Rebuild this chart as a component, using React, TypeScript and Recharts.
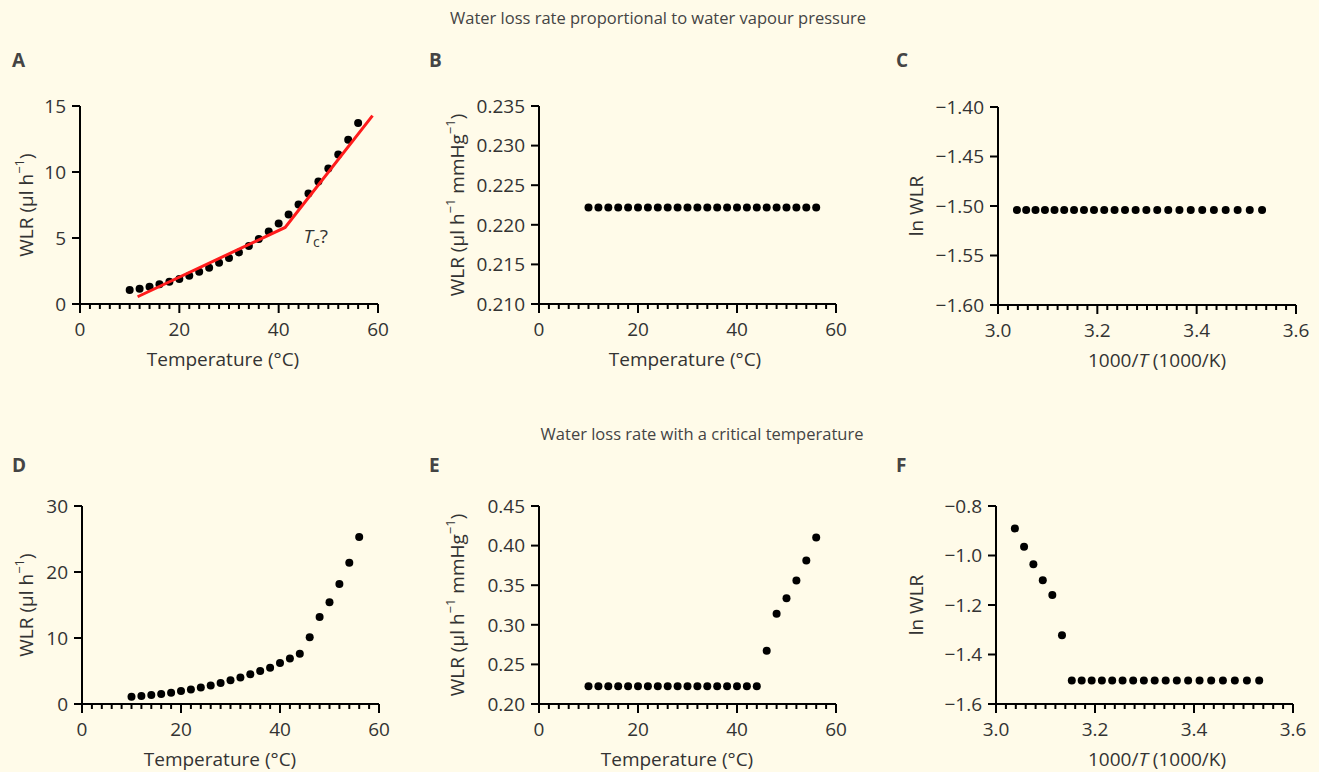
import React from 'react'
import { ScatterChart, Scatter, XAxis, YAxis, ReferenceDot, Label } from 'recharts'

const FONT = '"Open Sans", "Noto Sans", sans-serif'
const INK = '#333'
const BG = '#fffbe9'
const RED = '#ff1c1c'
const FS = 19

// temperatures of the points (°C)
const tempC = [10, 12, 14, 16, 18, 20, 22, 24, 26, 28, 30, 32, 34, 36, 38, 40, 42, 44, 46, 48, 50, 52, 54, 56]
// same points as 1000/T (1000/K)
const invT = [3.5317, 3.5069, 3.4825, 3.4584, 3.4347, 3.4112, 3.3881, 3.3653, 3.3428, 3.3206, 3.2987, 3.2771,
  3.2557, 3.2347, 3.2139, 3.1933, 3.1731, 3.1531, 3.1333, 3.1138, 3.0945, 3.0755, 3.0567, 3.0381]

// top row: vapour-pressure driven
const wlrA = [1.06, 1.16, 1.31, 1.49, 1.69, 1.89, 2.14, 2.45, 2.75, 3.13, 3.48, 3.91, 4.39, 4.92, 5.5, 6.1,
  6.78, 7.54, 8.37, 9.28, 10.26, 11.32, 12.45, 13.71]
const fitTemp = [11.6, 41.3, 58.9]
const fitWlr = [0.55, 5.8, 14.27]
const wlrPerMmHgB = [0.2222, 0.2222, 0.2222, 0.2222, 0.2222, 0.2222, 0.2222, 0.2222, 0.2222, 0.2222, 0.2222, 0.2222,
  0.2222, 0.2222, 0.2222, 0.2222, 0.2222, 0.2222, 0.2222, 0.2222, 0.2222, 0.2222, 0.2222, 0.2222]
const lnWlrC = [-1.504, -1.504, -1.504, -1.504, -1.504, -1.504, -1.504, -1.504, -1.504, -1.504, -1.504, -1.504,
  -1.504, -1.504, -1.504, -1.504, -1.504, -1.504, -1.504, -1.504, -1.504, -1.504, -1.504, -1.504]

// bottom row: critical temperature
const wlrD = [1.1, 1.2, 1.36, 1.5, 1.7, 1.97, 2.2, 2.5, 2.8, 3.2, 3.6, 4.0, 4.5, 5.0, 5.5, 6.2, 6.9, 7.6,
  10.1, 13.2, 15.4, 18.2, 21.4, 25.3]
const wlrPerMmHgE = [0.2224, 0.2224, 0.2224, 0.2224, 0.2224, 0.2224, 0.2224, 0.2224, 0.2224, 0.2224, 0.2224, 0.2224,
  0.2224, 0.2224, 0.2224, 0.2224, 0.2224, 0.2224, 0.2672, 0.3139, 0.3336, 0.3559, 0.3811, 0.4101]
const lnWlrF = [-1.505, -1.505, -1.505, -1.505, -1.505, -1.505, -1.505, -1.505, -1.505, -1.505, -1.505, -1.505,
  -1.505, -1.505, -1.505, -1.505, -1.505, -1.505, -1.322, -1.16, -1.1, -1.035, -0.965, -0.891]

// axis ticks
const tempMajor = [0, 20, 40, 60]
const invTMajor = [3.0, 3.2, 3.4, 3.6]
const ticksA = [0, 5, 10, 15]
const ticksB = [0.21, 0.215, 0.22, 0.225, 0.23, 0.235]
const ticksC = [-1.6, -1.55, -1.5, -1.45, -1.4]
const ticksD = [0, 10, 20, 30]
const ticksE = [0.2, 0.25, 0.3, 0.35, 0.4, 0.45]
const ticksF = [-1.6, -1.4, -1.2, -1.0, -0.8]

const AX_W = 110
const M_TOP = 20
const M_RIGHT = 20
const AX_H = 75

const minus = (s: string) => s.replace('-', '\u2212')

const minorTicks = (lo: number, hi: number, step: number) => {
  const out: number[] = []
  const n = Math.round((hi - lo) / step)
  for (let i = 0; i <= n; i++) out.push(Math.round((lo + i * step) * 1000) / 1000)
  return out
}

function XTick(props: any) {
  const { x, y, payload, majors, fmt } = props
  const v = payload.value
  const major = majors.some((m: number) => Math.abs(m - v) < 1e-6)
  return (
    <g>
      <line x1={x} x2={x} y1={y} y2={y + (major ? 9 : 5)} stroke="#000" strokeWidth={2} />
      {major && (
        <text x={x} y={y + 32} textAnchor="middle" fill={INK} fontSize={FS} fontFamily={FONT}>
          {fmt(v)}
        </text>
      )}
    </g>
  )
}

const dot = (p: any) => <circle cx={p.cx} cy={p.cy} r={4} fill="#000" />

const wlrLabel = (
  <>
    WLR (µl h<tspan dy={-7} fontSize={13}>−1</tspan><tspan dy={7}>)</tspan>
  </>
)
const wlrPerLabel = (
  <>
    WLR (µl h<tspan dy={-7} fontSize={13}>−1</tspan><tspan dy={7}> mmHg</tspan>
    <tspan dy={-7} fontSize={13}>−1</tspan><tspan dy={7}>)</tspan>
  </>
)
const lnLabel = <>ln WLR</>
const tempLabel = <>Temperature (°C)</>
const invTLabel = (
  <>
    1000/<tspan fontStyle="italic">T</tspan> (1000/K)
  </>
)

type Cfg = {
  plot: { left: number; top: number; width: number; height: number }
  xs: number[]
  ys: number[]
  xDomain: [number, number]
  xMajor: number[]
  xStep: number
  xFmt: (v: number) => string
  yDomain: [number, number]
  yTicks: number[]
  yFmt: (v: number) => string
  yLabel: React.ReactNode
  yLabelX: number
  xLabel: React.ReactNode
  xLabelX: number
  fit?: boolean
}

function Panel({ cfg }: { cfg: Cfg }) {
  const { plot } = cfg
  const left = plot.left - AX_W
  const top = plot.top - M_TOP
  const w = plot.width + AX_W + M_RIGHT
  const h = plot.height + M_TOP + AX_H
  const data = cfg.xs.map((x, i) => ({ x, y: cfg.ys[i] }))
  const fit = fitTemp.map((x, i) => ({ x, y: fitWlr[i] }))
  const cy = M_TOP + plot.height / 2
  return (
    <div style={{ position: 'absolute', left, top }}>
      <ScatterChart width={w} height={h} margin={{ top: M_TOP, right: M_RIGHT, bottom: 0, left: 0 }}>
        <XAxis
          type="number"
          dataKey="x"
          domain={cfg.xDomain}
          ticks={minorTicks(cfg.xDomain[0], cfg.xDomain[1], cfg.xStep)}
          interval={0}
          allowDataOverflow
          tickLine={false}
          tickSize={0}
          tickMargin={0}
          height={AX_H}
          axisLine={{ stroke: '#000', strokeWidth: 2 }}
          tick={(p: any) => <XTick {...p} majors={cfg.xMajor} fmt={cfg.xFmt} />}
        >
          <Label
            content={() => (
              <text
                x={cfg.xLabelX - left}
                y={M_TOP + plot.height + 55}
                textAnchor="middle"
                dominantBaseline="central"
                fill={INK}
                fontSize={FS}
                fontFamily={FONT}
              >
                {cfg.xLabel}
              </text>
            )}
          />
        </XAxis>
        <YAxis
          type="number"
          dataKey="y"
          domain={cfg.yDomain}
          ticks={cfg.yTicks}
          interval={0}
          allowDataOverflow
          width={AX_W}
          tickSize={8}
          tickMargin={6}
          tickFormatter={cfg.yFmt}
          tick={{ fill: INK, fontSize: FS, fontFamily: FONT }}
          tickLine={{ stroke: '#000', strokeWidth: 2 }}
          axisLine={{ stroke: '#000', strokeWidth: 2 }}
        >
          <Label
            content={() => (
              <text
                x={cfg.yLabelX - left}
                y={cy}
                transform={`rotate(-90 ${cfg.yLabelX - left} ${cy})`}
                textAnchor="middle"
                dominantBaseline="central"
                fill={INK}
                fontSize={FS}
                fontFamily={FONT}
              >
                {cfg.yLabel}
              </text>
            )}
          />
        </YAxis>
        <Scatter data={data} shape={dot} isAnimationActive={false} />
        {cfg.fit && (
          <Scatter
            data={fit}
            line={{ stroke: RED, strokeWidth: 3 }}
            shape={() => <g />}
            isAnimationActive={false}
          />
        )}
        {cfg.fit && (
          <ReferenceDot
            x={45}
            y={4.6}
            r={0}
            shape={(p: any) => (
              <text x={p.cx} y={p.cy} fill={INK} fontSize={FS} fontFamily={FONT}>
                <tspan fontStyle="italic">T</tspan>
                <tspan dy={4} fontSize={14}>c</tspan>
                <tspan dy={-4}>?</tspan>
              </text>
            )}
          />
        )}
      </ScatterChart>
    </div>
  )
}

const fmt0 = (v: number) => String(Math.round(v))
const fmt1 = (v: number) => minus(v.toFixed(1))

const panels: Cfg[] = [
  {
    plot: { left: 80, top: 106, width: 298, height: 198 },
    xs: tempC, ys: wlrA, xDomain: [0, 60], xMajor: tempMajor, xStep: 2, xFmt: fmt0,
    yDomain: [0, 15], yTicks: ticksA, yFmt: fmt0,
    yLabel: wlrLabel, yLabelX: 26, xLabel: tempLabel, xLabelX: 223, fit: true,
  },
  {
    plot: { left: 539, top: 106, width: 297, height: 198 },
    xs: tempC, ys: wlrPerMmHgB, xDomain: [0, 60], xMajor: tempMajor, xStep: 2, xFmt: fmt0,
    yDomain: [0.21, 0.235], yTicks: ticksB, yFmt: (v) => v.toFixed(3),
    yLabel: wlrPerLabel, yLabelX: 457, xLabel: tempLabel, xLabelX: 685,
  },
  {
    plot: { left: 998, top: 107, width: 298, height: 198 },
    xs: invT, ys: lnWlrC, xDomain: [3.0, 3.6], xMajor: invTMajor, xStep: 0.02, xFmt: fmt1,
    yDomain: [-1.6, -1.4], yTicks: ticksC, yFmt: (v) => minus(v.toFixed(2)),
    yLabel: lnLabel, yLabelX: 916, xLabel: invTLabel, xLabelX: 1157,
  },
  {
    plot: { left: 82, top: 506, width: 297, height: 198 },
    xs: tempC, ys: wlrD, xDomain: [0, 60], xMajor: tempMajor, xStep: 2, xFmt: fmt0,
    yDomain: [0, 30], yTicks: ticksD, yFmt: fmt0,
    yLabel: wlrLabel, yLabelX: 26, xLabel: tempLabel, xLabelX: 220,
  },
  {
    plot: { left: 539, top: 506, width: 297, height: 198 },
    xs: tempC, ys: wlrPerMmHgE, xDomain: [0, 60], xMajor: tempMajor, xStep: 2, xFmt: fmt0,
    yDomain: [0.2, 0.45], yTicks: ticksE, yFmt: (v) => v.toFixed(2),
    yLabel: wlrPerLabel, yLabelX: 457, xLabel: tempLabel, xLabelX: 677,
  },
  {
    plot: { left: 996, top: 506, width: 297, height: 198 },
    xs: invT, ys: lnWlrF, xDomain: [3.0, 3.6], xMajor: invTMajor, xStep: 0.02, xFmt: fmt1,
    yDomain: [-1.6, -0.8], yTicks: ticksF, yFmt: (v) => minus(v.toFixed(1)),
    yLabel: lnLabel, yLabelX: 916, xLabel: invTLabel, xLabelX: 1157,
  },
]

const letters = [
  { t: 'A', x: 12, y: 50 },
  { t: 'B', x: 429, y: 50 },
  { t: 'C', x: 896, y: 50 },
  { t: 'D', x: 12, y: 455 },
  { t: 'E', x: 429, y: 455 },
  { t: 'F', x: 896, y: 455 },
]

const titles = [
  { t: 'Water loss rate proportional to water vapour pressure', cx: 658, y: 8 },
  { t: 'Water loss rate with a critical temperature', cx: 702, y: 424 },
]

export default function App() {
  return (
    <div
      style={{
        position: 'absolute',
        left: 0,
        top: 0,
        width: 1319,
        height: 772,
        background: BG,
        fontFamily: FONT,
        color: INK,
        overflow: 'hidden',
      }}
    >
      {titles.map((t) => (
        <div
          key={t.t}
          style={{ position: 'absolute', left: t.cx - 350, top: t.y, width: 700, textAlign: 'center', fontSize: 16.5, lineHeight: '20px', color: '#444' }}
        >
          {t.t}
        </div>
      ))}
      {letters.map((l) => (
        <div
          key={l.t}
          style={{ position: 'absolute', left: l.x, top: l.y, fontSize: 19, lineHeight: '20px', fontWeight: 700, color: '#444' }}
        >
          {l.t}
        </div>
      ))}
      {panels.map((cfg, i) => (
        <Panel key={i} cfg={cfg} />
      ))}
    </div>
  )
}
